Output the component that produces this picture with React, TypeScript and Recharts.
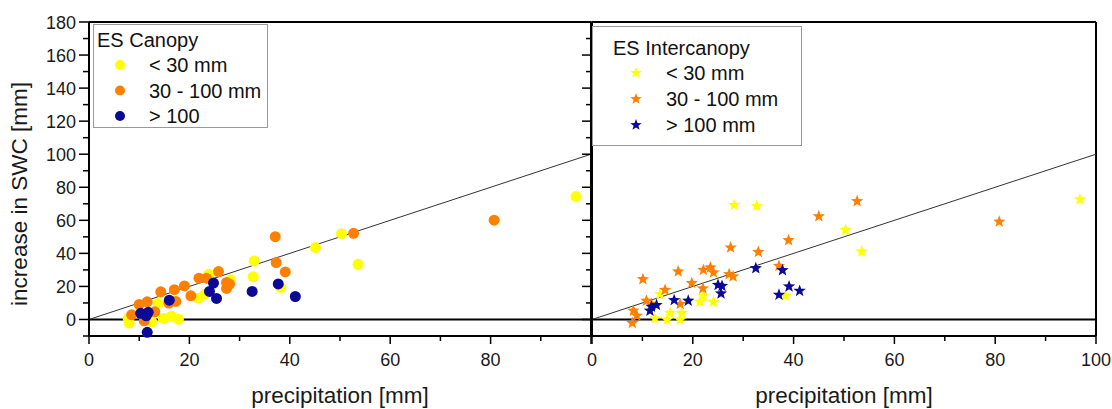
import React from "react"
import { ScatterChart, Scatter, XAxis, YAxis, ReferenceLine, Legend, Label } from "recharts"

// [precipitation, increase in SWC]
const canopyLow = [
  [7.8, 0.7], [8, -2.2], [12.5, -1.4], [14.8, 0.6], [16.4, 1.9], [17.8, 0.2], [13.8, 9.7],
  [21.8, 12.9], [23.1, 15.3], [23.9, 27.4], [28.2, 24], [32.9, 35.4], [32.7, 25.8],
  [38.2, 19.4], [45.1, 43.5], [50.3, 51.9], [53.6, 33.4], [97, 74.4],
]
const canopyMid = [
  [37.1, 50.1], [37.3, 34.4], [39.1, 28.8], [25.8, 29], [23.4, 25], [21.9, 25], [27.4, 22.4],
  [28, 21.4], [27.4, 18.8], [19, 20.3], [17, 18], [14.3, 16.7], [20.3, 14.3], [17.3, 10.9],
  [15.9, 9.9], [10, 9.1], [11.6, 10.7], [13.1, 4.6], [8.5, 2.8], [11, -0.8], [52.7, 52.1],
  [80.7, 60.1],
]
const canopyHigh = [
  [24.8, 22], [24, 17], [25.4, 12.7], [32.5, 17], [37.7, 21.5], [41.1, 13.9], [16, 11.7],
  [10.3, 3.7], [11.8, 4.3], [11.4, 2.2], [11.6, -7.8],
]

const interLow = [
  [28.2, 69.2], [32.7, 68.6], [50.3, 54.1], [96.8, 72.6], [53.5, 41.1], [38.4, 14.3],
  [21.4, 10.7], [24.1, 10.7], [22.1, 14.3], [13.5, 15.3], [15.5, 3.9], [17.8, 3.9],
  [12.5, 0.6], [14.9, -0.2], [17.5, -0.2],
]
const interMid = [
  [52.6, 71.6], [80.8, 59.2], [45, 62.4], [39, 47.9], [27.5, 43.5], [33, 40.8], [37.1, 32.4],
  [17.1, 29], [10.1, 24.4], [22.1, 30], [23.5, 31.4], [24.1, 28.4], [27.2, 27.4], [28, 26],
  [19.8, 22], [22, 18.8], [14.5, 17.9], [17.5, 9.3], [10.8, 11.3], [11.8, 9.3], [8.2, 5.3],
  [8.9, 2.3], [8, -2.2],
]
const interHigh = [
  [32.5, 31], [37.8, 29.8], [39.1, 20], [41.2, 17.3], [37.1, 14.9], [25, 20.9], [25.8, 20.3],
  [25.6, 15.7], [19.1, 11.3], [16.3, 11.7], [12.8, 8.7], [11.8, 7.7], [11.5, 5.3],
]

const xTicks = [0, 10, 20, 30, 40, 50, 60, 70, 80, 90, 100]
const yTicks = [-10, 0, 10, 20, 30, 40, 50, 60, 70, 80, 90, 100, 110, 120, 130, 140, 150, 160, 170, 180]
const legendLabels = ["< 30 mm", "30 - 100 mm", "> 100"]
const legendLabelsInter = ["< 30 mm", "30 - 100 mm", "> 100 mm"]

const YELLOW = "#ffff00"
const ORANGE = "#ff8000"
const NAVY = "#0a0a96"
const FONT = "'Liberation Sans', Arial, sans-serif"

const toPts = (arr: number[][]) => arr.map(([x, y]) => ({ x, y }))

const starPoints = (cx: number, cy: number, R: number) => {
  const r = R * 0.42
  const pts: string[] = []
  for (let i = 0; i < 10; i++) {
    const a = -Math.PI / 2 + (i * Math.PI) / 5
    const rr = i % 2 === 0 ? R : r
    pts.push(`${cx + rr * Math.cos(a)},${cy + rr * Math.sin(a)}`)
  }
  return pts.join(" ")
}

const Dot = (props: any) => <circle cx={props.cx} cy={props.cy} r={5.5} fill={props.fill} />
const Star = (props: any) => <polygon points={starPoints(props.cx, props.cy, 6.5)} fill={props.fill} />

const XTick = ({ x, y, payload, hideLast }: any) => {
  const v = payload.value
  const major = v % 20 === 0
  return (
    <g>
      <line x1={x} x2={x} y1={y} y2={y + (major ? 8 : 5)} stroke="#000" strokeWidth={1.5} />
      {major && !(hideLast && v === 100) && (
        <text x={x} y={y + 30} textAnchor="middle" fontSize={18} fill="#1a1a1a">{v}</text>
      )}
    </g>
  )
}

const YTick = ({ x, y, payload, noText }: any) => {
  const v = payload.value
  const major = v % 20 === 0
  return (
    <g>
      <line x1={x - (major ? 10 : 6)} x2={x} y1={y} y2={y} stroke="#000" strokeWidth={1.5} />
      {major && v >= 0 && !noText && (
        <text x={x - 13} y={y + 6.5} textAnchor="end" fontSize={18} fill="#1a1a1a">{v}</text>
      )}
    </g>
  )
}

const CanopyLegend = () => (
  <svg width={175} height={104} style={{ display: "block" }}>
    <rect x={0.5} y={0.5} width={174} height={103} fill="#fff" stroke="#999" />
    <text x={4} y={23} fontSize={20} fill="#111">ES Canopy</text>
    {[YELLOW, ORANGE, NAVY].map((c, i) => (
      <g key={i}>
        <circle cx={27} cy={41 + i * 25.5} r={5} fill={c} />
        <text x={56} y={48 + i * 25.5} fontSize={20} fill="#111">{legendLabels[i]}</text>
      </g>
    ))}
  </svg>
)

const InterLegend = () => (
  <svg width={210} height={120} style={{ display: "block" }}>
    <rect x={0.5} y={0.5} width={209} height={119} fill="#fff" stroke="#999" />
    <text x={21} y={29} fontSize={20} fill="#111">ES Intercanopy</text>
    {[YELLOW, ORANGE, NAVY].map((c, i) => (
      <g key={i}>
        <polygon points={starPoints(44, 47 + i * 26, 6)} fill={c} />
        <text x={74} y={54 + i * 26} fontSize={20} fill="#111">{legendLabelsInter[i]}</text>
      </g>
    ))}
  </svg>
)

export default function App() {
  return (
    <div style={{ position: "absolute", left: 0, top: 0, width: 1112, height: 409, background: "#fff", fontFamily: FONT }}>
      <div style={{ position: "absolute", left: 0, top: 0 }}>
        <ScatterChart width={593} height={409} margin={{ top: 22, right: 2, left: 29, bottom: 43 }}>
          <XAxis
            type="number"
            dataKey="x"
            domain={[0, 100]}
            ticks={xTicks}
            interval={0}
            tickSize={0}
            tickMargin={0}
            height={30}
            axisLine={{ stroke: "#000", strokeWidth: 2 }}
            tick={<XTick hideLast />}
          >
            <Label
              content={() => (
                <text x={340} y={403} textAnchor="middle" fontSize={22.5} fill="#1a1a1a">precipitation [mm]</text>
              )}
            />
          </XAxis>
          <YAxis
            type="number"
            dataKey="y"
            domain={[-10, 180]}
            ticks={yTicks}
            interval={0}
            tickSize={0}
            tickMargin={0}
            width={60}
            axisLine={{ stroke: "#000", strokeWidth: 2 }}
            tick={<YTick />}
          >
            <Label
              content={() => (
                <text x={19} y={194} transform="rotate(-90 19 194)" textAnchor="middle" dominantBaseline="central" fontSize={22.5} fill="#1a1a1a">
                  increase in SWC [mm]
                </text>
              )}
            />
          </YAxis>
          <ReferenceLine y={180} stroke="#000" strokeWidth={2} />
          <ReferenceLine x={100} stroke="#000" strokeWidth={2} />
          <ReferenceLine y={0} stroke="#000" strokeWidth={2} />
          <ReferenceLine segment={[{ x: 0, y: 0 }, { x: 100, y: 100 }]} stroke="#333" strokeWidth={1} />
          <Scatter name="< 30 mm" data={toPts(canopyLow)} fill={YELLOW} shape={Dot} isAnimationActive={false} />
          <Scatter name="30 - 100 mm" data={toPts(canopyMid)} fill={ORANGE} shape={Dot} isAnimationActive={false} />
          <Scatter name="> 100" data={toPts(canopyHigh)} fill={NAVY} shape={Dot} isAnimationActive={false} />
          <Legend
            layout="vertical"
            align="center"
            verticalAlign="middle"
            content={() => <CanopyLegend />}
            wrapperStyle={{ left: 93, top: 24, width: 175, height: 104 }}
          />
        </ScatterChart>
      </div>
      <div style={{ position: "absolute", left: 582, top: 0 }}>
        <ScatterChart width={530} height={409} margin={{ top: 22, right: 16, left: 0, bottom: 43 }}>
          <XAxis
            type="number"
            dataKey="x"
            domain={[0, 100]}
            ticks={xTicks}
            interval={0}
            tickSize={0}
            tickMargin={0}
            height={30}
            axisLine={{ stroke: "#000", strokeWidth: 2 }}
            tick={<XTick />}
          >
            <Label
              content={() => (
                <text x={262} y={403} textAnchor="middle" fontSize={22.5} fill="#1a1a1a">precipitation [mm]</text>
              )}
            />
          </XAxis>
          <YAxis
            type="number"
            dataKey="y"
            domain={[-10, 180]}
            ticks={yTicks}
            interval={0}
            tickSize={0}
            tickMargin={0}
            width={10}
            axisLine={{ stroke: "#000", strokeWidth: 2 }}
            tick={<YTick noText />}
          />
          <ReferenceLine y={180} stroke="#000" strokeWidth={2} />
          <ReferenceLine x={100} stroke="#000" strokeWidth={2} />
          <ReferenceLine y={0} stroke="#000" strokeWidth={2} />
          <ReferenceLine segment={[{ x: 0, y: 0 }, { x: 100, y: 100 }]} stroke="#333" strokeWidth={1} />
          <Scatter name="< 30 mm" data={toPts(interLow)} fill={YELLOW} shape={Star} isAnimationActive={false} />
          <Scatter name="30 - 100 mm" data={toPts(interMid)} fill={ORANGE} shape={Star} isAnimationActive={false} />
          <Scatter name="> 100 mm" data={toPts(interHigh)} fill={NAVY} shape={Star} isAnimationActive={false} />
          <Legend
            layout="vertical"
            align="center"
            verticalAlign="middle"
            content={() => <InterLegend />}
            wrapperStyle={{ left: 10, top: 26, width: 210, height: 120 }}
          />
        </ScatterChart>
      </div>
    </div>
  )
}
